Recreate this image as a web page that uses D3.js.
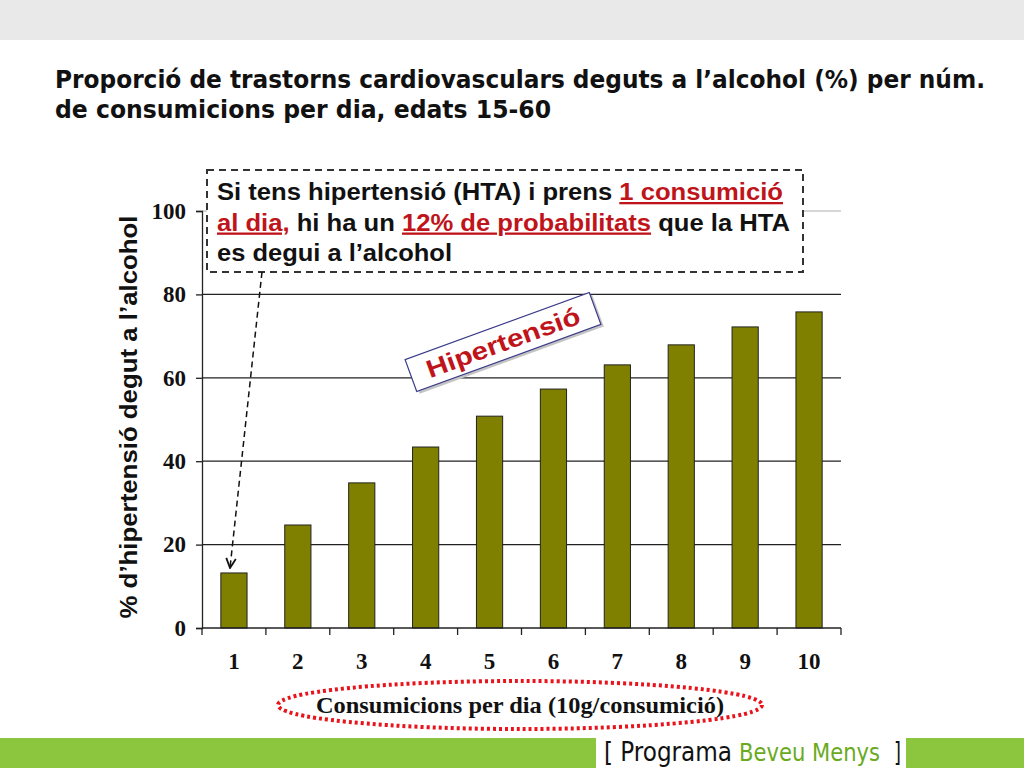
<!DOCTYPE html>
<html><head><meta charset="utf-8">
<script src="https://cdn.jsdelivr.net/npm/d3@7"></script>
<style>body{margin:0;background:#fff}svg{display:block}</style>
</head><body>
<svg id="c" width="1024" height="768"></svg>
<script>
const categories = ["1","2","3","4","5","6","7","8","9","10"];
const values = [13.2, 24.7, 34.8, 43.4, 50.8, 57.3, 63.1, 67.9, 72.2, 75.8];
const yTicks = [0, 20, 40, 60, 80, 100];
const titleLines = ["Proporció de trastorns cardiovasculars deguts a l’alcohol (%) per núm.", "de consumicions per dia, edats 15-60"];
const yTitle = "% d’hipertensió degut a l’alcohol";
const xTitle = "Consumicions per dia (10g/consumició)";
const seriesLabel = "Hipertensió";
const footerParts = ["[ Programa", "Beveu Menys", "]"];

const svg = d3.select("#c");
svg.append("rect").attr("x",0).attr("y",0).attr("width",1024).attr("height",40).attr("fill","#e9e9e9");

// title
const titleW = [930, 496];
titleLines.forEach((l,i)=>svg.append("text").attr("x",55).attr("y",88+i*30)
  .attr("font-family","'DejaVu Sans Condensed','DejaVu Sans',sans-serif").attr("font-weight","bold").attr("font-size",24).attr("fill","#111")
  .attr("textLength",titleW[i]).attr("lengthAdjust","spacingAndGlyphs").text(l));

const x = d3.scaleBand().domain(categories).range([202,841]).paddingInner(0.59).paddingOuter(0.295);
const y = d3.scaleLinear().domain([0,100]).range([628,211]);

svg.append("g").selectAll("line").data(yTicks.filter(d=>d>0)).join("line")
  .attr("x1",202).attr("x2",841).attr("y1",d=>y(d)).attr("y2",d=>y(d))
  .attr("stroke",d=>d===100?"#c8c8c8":"#222").attr("stroke-width",1.3);

svg.append("g").selectAll("rect").data(values).join("rect")
  .attr("x",(d,i)=>x(categories[i])).attr("width",x.bandwidth())
  .attr("y",d=>y(d)).attr("height",d=>y(0)-y(d))
  .attr("fill","#808000").attr("stroke","#222").attr("stroke-width",1);

const serif = "'Liberation Serif','Times New Roman',serif";
const ya = svg.append("g").attr("transform","translate(202,0)")
  .call(d3.axisLeft(y).tickValues(yTicks).tickSize(6).tickPadding(10));
ya.select(".domain").attr("stroke","#222").attr("stroke-width",1.3);
ya.selectAll(".tick line").attr("stroke","#222").attr("stroke-width",1.3);
ya.selectAll("text").attr("font-family",serif).attr("font-weight","bold").attr("font-size",23).attr("fill","#111");

const xEdges = d3.range(categories.length+1).map(i=>202+i*x.step());
const xa = svg.append("g").attr("transform","translate(0,628)")
  .call(d3.axisBottom(x).tickSize(0).tickPadding(25));
xa.select(".domain").attr("d","M202,0H841").attr("stroke","#222").attr("stroke-width",1.3);
xa.selectAll("text").attr("font-family",serif).attr("font-weight","bold").attr("font-size",23).attr("fill","#111");
svg.append("g").selectAll("line").data(xEdges).join("line")
  .attr("x1",d=>d).attr("x2",d=>d).attr("y1",628).attr("y2",635).attr("stroke","#222").attr("stroke-width",1.3);

const af = "'Liberation Sans',Arial,sans-serif";
svg.append("text").attr("transform","translate(137,417) rotate(-90)").attr("text-anchor","middle")
  .attr("font-family",af).attr("font-weight","bold").attr("font-size",24).attr("fill","#111")
  .attr("textLength",403).attr("lengthAdjust","spacingAndGlyphs").text(yTitle);

svg.append("text").attr("x",520).attr("y",713).attr("text-anchor","middle")
  .attr("font-family",serif).attr("font-weight","bold").attr("font-size",24).attr("fill","#111")
  .attr("textLength",408).attr("lengthAdjust","spacingAndGlyphs").text(xTitle);
svg.append("ellipse").attr("cx",520).attr("cy",705).attr("rx",242).attr("ry",24)
  .attr("fill","none").attr("stroke","#e8131b").attr("stroke-width",4).attr("stroke-dasharray","3,3");

// annotation box
svg.append("rect").attr("x",207).attr("y",170).attr("width",596).attr("height",102)
  .attr("fill","#fff").attr("stroke","#333").attr("stroke-width",2).attr("stroke-dasharray","7,5");
const lines = [
  [["Si tens hipertensió (HTA) i prens ",0],["1 consumició",1]],
  [["al dia,",1],[" hi ha un ",0],["12% de probabilitats",1],[" que la HTA",0]],
  [["es degui a l’alcohol",0]]
];
const lineW = [566, 573, 235];
lines.forEach((ln,i)=>{
  const tx = svg.append("text").attr("x",217).attr("y",200+i*30.5).attr("font-family",af).attr("font-weight","bold").attr("font-size",23).attr("fill","#111")
    .attr("textLength",lineW[i]).attr("lengthAdjust","spacingAndGlyphs");
  ln.forEach(([s,r])=>{
    const ts = tx.append("tspan").text(s);
    if(r) ts.attr("fill","#c0141b").attr("text-decoration","underline");
  });
});

svg.append("defs").append("marker").attr("id","ah").attr("viewBox","0 0 10 10").attr("refX",9).attr("refY",5)
  .attr("markerWidth",8).attr("markerHeight",8).attr("orient","auto")
  .append("path").attr("d","M1,1L9,5L1,9").attr("fill","none").attr("stroke","#111").attr("stroke-width",1.5);
svg.append("line").attr("x1",262).attr("y1",272).attr("x2",230).attr("y2",y(values[0])-5)
  .attr("stroke","#111").attr("stroke-width",1.5).attr("stroke-dasharray","6,4").attr("marker-end","url(#ah)");

// series label box
const lg = svg.append("g").attr("transform","translate(503,342) rotate(-20)");
lg.append("rect").attr("x",-98).attr("y",-17).attr("width",196).attr("height",34).attr("fill","#c4c4c4").attr("transform","translate(2,3)");
lg.append("rect").attr("x",-98).attr("y",-17).attr("width",196).attr("height",34).attr("fill","#fff").attr("stroke","#3a3a8a").attr("stroke-width",1.2);
lg.append("text").attr("x",0).attr("y",9).attr("text-anchor","middle").attr("font-family",af).attr("font-weight","bold").attr("font-size",25).attr("fill","#c0141b")
  .attr("textLength",162).attr("lengthAdjust","spacingAndGlyphs").text(seriesLabel);

// bottom band
svg.append("rect").attr("x",0).attr("y",738).attr("width",1024).attr("height",30).attr("fill","#8cc63f");
svg.append("rect").attr("x",596).attr("y",738).attr("width",310).attr("height",30).attr("fill","#fff");
const footX = [604, 739, 894], footW = [128, 141, 7], footS = [27, 25, 27], footC = ["#111","#6aaa1e","#111"];
footerParts.forEach((s,i)=>svg.append("text").attr("x",footX[i]).attr("y",761)
  .attr("font-family","'DejaVu Sans Condensed',sans-serif").attr("font-size",footS[i]).attr("fill",footC[i])
  .attr("textLength",footW[i]).attr("lengthAdjust","spacingAndGlyphs").text(s));
</script>
</body></html>
